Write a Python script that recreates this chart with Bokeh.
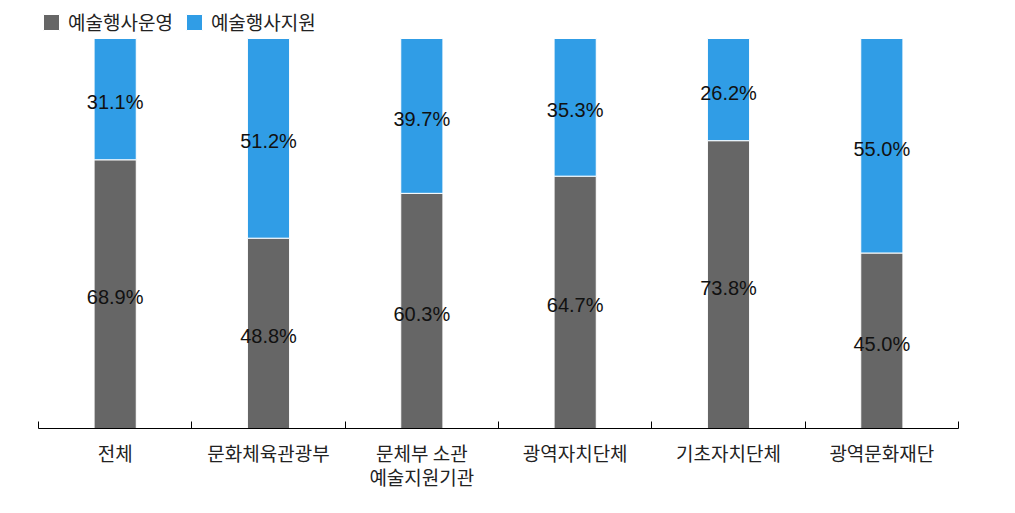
import numpy as np
from bokeh.plotting import figure
from bokeh.models import Range1d, FixedTicker, Legend, LegendItem, ColumnDataSource
from bokeh.core.properties import value
from bokeh.embed import file_html
from bokeh.resources import INLINE

categories = ["전체", "문화체육관광부", "문체부 소관\n예술지원기관", "광역자치단체", "기초자치단체", "광역문화재단"]
operation = [68.9, 48.8, 60.3, 64.7, 73.8, 45.0]
support = [31.1, 51.2, 39.7, 35.3, 26.2, 55.0]
series_names = ["예술행사운영", "예술행사지원"]
colors = ["#666666", "#309DE6"]

n = len(categories)
xs = np.arange(n) + 0.5

# frame spans from y=5 to y=428; 100% must land at y=38 -> headroom for the legend
frame_top, bar_top, frame_bottom = 5, 38, 428
y_end = 100.0 * (frame_bottom - frame_top) / (frame_bottom - bar_top)

p = figure(width=999, height=497, output_backend="svg", toolbar_location=None,
           x_range=Range1d(0, n), y_range=Range1d(0, y_end),
           y_axis_location=None,
           min_border_left=38, min_border_right=41, min_border_top=frame_top,
           min_border_bottom=497 - frame_bottom)
p.outline_line_color = None
p.grid.visible = False
p.background_fill_color = "white"

src = ColumnDataSource(dict(x=xs, op=operation, sup=support))
rs = p.vbar_stack(["op", "sup"], x="x", width=0.275, fill_color=colors,
                  line_color="white", line_width=1, source=src)

op = np.array(operation)
sp = np.array(support)
lab_x = np.concatenate([xs, xs])
lab_y = np.concatenate([op / 2, op + sp / 2])
lab_t = [f"{v:.1f}%" for v in operation] + [f"{v:.1f}%" for v in support]
lsrc = ColumnDataSource(dict(x=lab_x, y=lab_y, t=lab_t))
p.text(x="x", y="y", text="t", source=lsrc, text_align="center", text_baseline="middle",
       text_font=value("Liberation Sans"), text_font_size="20px", text_color="#111111",
       y_offset=3)

ax = p.xaxis[0]
ax.ticker = FixedTicker(ticks=[float(v) for v in xs], minor_ticks=list(range(n + 1)))
ax.major_label_overrides = {float(v): c for v, c in zip(xs, categories)}
ax.major_tick_line_color = None
ax.major_tick_in = 0
ax.major_tick_out = 0
ax.minor_tick_in = 7
ax.minor_tick_out = 0
ax.minor_tick_line_color = "black"
ax.axis_line_color = "black"
ax.major_label_standoff = 10
ax.major_label_text_font = "Noto Sans CJK KR"
ax.major_label_text_font_size = "19px"
ax.major_label_text_line_height = 0.9
ax.major_label_text_color = "#222222"

legend = Legend(items=[LegendItem(label=series_names[i], renderers=[rs[i]]) for i in range(2)],
                orientation="horizontal", location="top_left",
                glyph_width=20, glyph_height=20, label_standoff=7, spacing=11,
                padding=0, margin=3, border_line_color=None, background_fill_alpha=0,
                label_text_font="Noto Sans CJK KR", label_text_font_size="19px",
                label_text_color="#222222")
p.add_layout(legend)

open("out.html", "w").write(file_html(p, INLINE))
